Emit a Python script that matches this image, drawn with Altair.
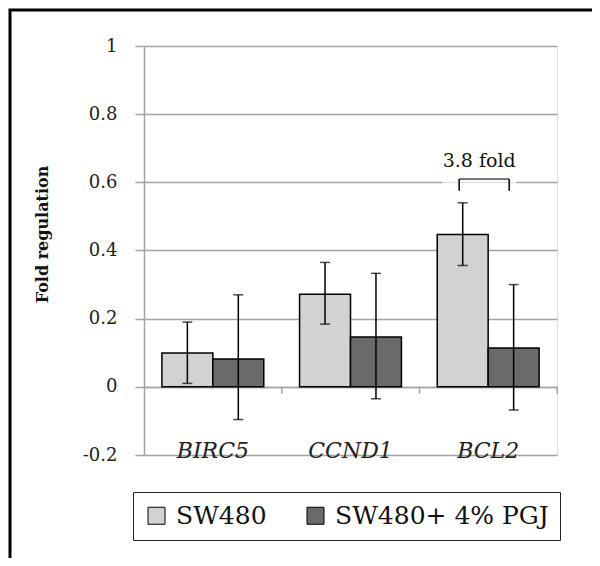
import altair as alt
import pandas as pd

genes = ["BIRC5", "CCND1", "BCL2"]
series = ["SW480", "SW480+ 4% PGJ"]
sw480_val = [0.099, 0.272, 0.447]
sw480_hi = [0.19, 0.365, 0.54]
sw480_lo = [0.01, 0.184, 0.356]
pgj_val = [0.082, 0.146, 0.114]
pgj_hi = [0.27, 0.333, 0.30]
pgj_lo = [-0.096, -0.035, -0.068]
y_ticks = [-0.2, 0, 0.2, 0.4, 0.6, 0.8, 1]
note_text = "3.8 fold"
note_gene = "BCL2"
bracket_top = 0.61
bracket_leg = 0.575
note_y = 0.645
sep_top = 0
sep_bottom = -0.02

rows = []
for i, g in enumerate(genes):
    rows.append({"gene": g, "series": series[0], "value": sw480_val[i], "hi": sw480_hi[i], "lo": sw480_lo[i]})
    rows.append({"gene": g, "series": series[1], "value": pgj_val[i], "hi": pgj_hi[i], "lo": pgj_lo[i]})
df = pd.DataFrame(rows)

SERIF = "DejaVu Serif"
GRID = "#a3a3a3"

x_enc = alt.X(
    "gene:N", sort=genes, title=None,
    scale=alt.Scale(paddingInner=0.26, paddingOuter=0.13),
    axis=alt.Axis(
        orient="bottom", offset=-68, domainColor=GRID, domainWidth=1.5,
        ticks=False, labelPadding=53, labelAngle=0,
        labelFont=SERIF, labelFontSize=22, labelFontStyle="italic", labelColor="#222",
        labelBaseline="top", labelAlign="center", grid=False,
    ),
)
xoff_enc = alt.XOffset("series:N", sort=series, scale=alt.Scale(paddingInner=0, paddingOuter=0))
y_scale = alt.Scale(domain=[-0.2, 1], nice=False, zero=False)
y_enc = alt.Y(
    "value:Q", scale=y_scale, title="Fold regulation",
    axis=alt.Axis(
        values=y_ticks, grid=True, gridColor=GRID, gridWidth=1.5,
        domainColor=GRID, domainWidth=1.5, tickColor=GRID, tickWidth=1.5, tickSize=9,
        labelPadding=18, labelFont=SERIF, labelFontSize=18, labelColor="#222",
        labelExpr="replace(format(datum.value, '.1~f'), '\u2212', '-')",
        titleFont=SERIF, titleFontSize=16, titleFontWeight="bold", titleColor="#111",
        titleX=-102, titleY=188, titleAngle=-90, titleAlign="center", titleBaseline="middle",
    ),
)

base = alt.Chart(df)

bars = base.mark_bar(stroke="black", strokeWidth=1.5).encode(
    x=x_enc, xOffset=xoff_enc, y=y_enc,
    fill=alt.Fill(
        "series:N", sort=series, title=None,
        scale=alt.Scale(domain=series, range=["#d2d2d2", "#6a6a6a"]),
        legend=alt.Legend(
            orient="none", legendX=-11, legendY=446, direction="horizontal",
            strokeColor="#222", padding=11, symbolType="square", symbolSize=289,
            symbolStrokeColor="black", symbolStrokeWidth=1, labelFont=SERIF,
            labelFontSize=25, labelColor="#111", labelOffset=7, columnPadding=36,
            labelLimit=400, fillColor="white",
        ),
    ),
)

err = base.mark_rule(color="black", strokeWidth=1.5).encode(
    x=alt.X("gene:N", sort=genes), xOffset=alt.XOffset("series:N", sort=series),
    y=alt.Y("lo:Q"), y2="hi:Q",
)
cap_hi = base.mark_tick(color="black", thickness=1.5, size=10, orient="horizontal").encode(
    x=alt.X("gene:N", sort=genes), xOffset=alt.XOffset("series:N", sort=series), y=alt.Y("hi:Q"),
)
cap_lo = base.mark_tick(color="black", thickness=1.5, size=10, orient="horizontal").encode(
    x=alt.X("gene:N", sort=genes), xOffset=alt.XOffset("series:N", sort=series), y=alt.Y("lo:Q"),
)

sep_df = pd.DataFrame({"gene": genes, "t": [sep_top] * 3, "b": [sep_bottom] * 3})
seps = alt.Chart(sep_df).mark_rule(color=GRID, strokeWidth=1.5, xOffset=69).encode(
    x=alt.X("gene:N", sort=genes), y=alt.Y("t:Q"), y2="b:Q")

note_df = pd.DataFrame({"gene": [note_gene], "top": [bracket_top], "leg": [bracket_leg],
                        "grid": [0.6], "ty": [note_y], "label": [note_text]})
nb = alt.Chart(note_df)
gap = nb.mark_tick(color="white", thickness=4, size=74, orient="horizontal", xOffset=-9).encode(
    x=alt.X("gene:N", sort=genes), y=alt.Y("grid:Q"))
btop = nb.mark_tick(color="black", thickness=1.5, size=50, orient="horizontal", xOffset=-4).encode(
    x=alt.X("gene:N", sort=genes), y=alt.Y("top:Q"))
bleg1 = nb.mark_rule(color="black", strokeWidth=1.5, xOffset=-29).encode(
    x=alt.X("gene:N", sort=genes), y=alt.Y("top:Q"), y2="leg:Q")
bleg2 = nb.mark_rule(color="black", strokeWidth=1.5, xOffset=21).encode(
    x=alt.X("gene:N", sort=genes), y=alt.Y("top:Q"), y2="leg:Q")
ntext = nb.mark_text(font=SERIF, fontSize=19, color="#111", baseline="alphabetic", dx=-9).encode(
    x=alt.X("gene:N", sort=genes), y=alt.Y("ty:Q"), text="label:N")

frame = alt.Chart(pd.DataFrame({"k": [0]})).mark_rect(
    fillOpacity=0, stroke="black", strokeWidth=3
).encode(x=alt.value(-134), x2=alt.value(480), y=alt.value(-36), y2=alt.value(540))

chart = alt.layer(gap, bars, err, cap_hi, cap_lo, seps, btop, bleg1, bleg2, ntext, frame).properties(
    width=413, height=409,
    autosize=alt.AutoSizeParams(type="none"),
    padding={"left": 136, "top": 38, "right": 35, "bottom": 103},
).configure_view(stroke=None).configure(background="white")

chart.save("out.html", embed_options={"renderer": "svg", "actions": False})
